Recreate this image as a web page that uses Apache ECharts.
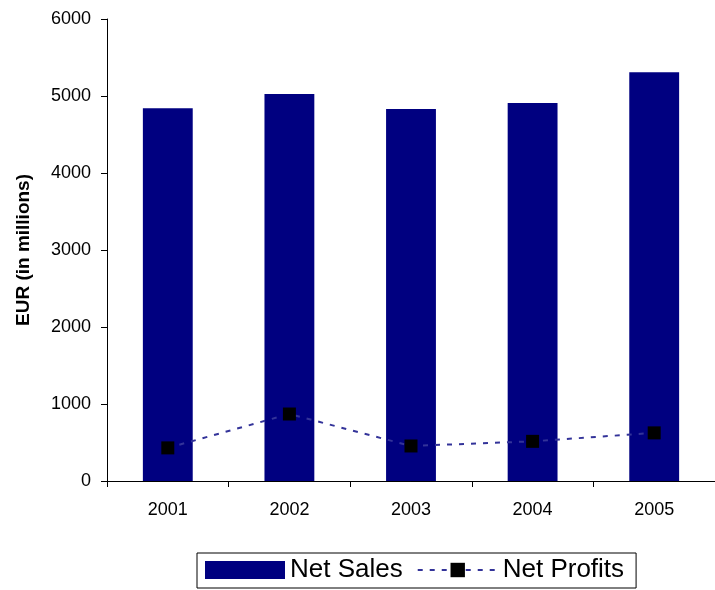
<!DOCTYPE html>
<html>
<head>
<meta charset="utf-8">
<script src="https://cdn.jsdelivr.net/npm/echarts@6/dist/echarts.min.js"></script>
<style>
  html, body { margin: 0; padding: 0; background: #fff; }
  #main { width: 715px; height: 590px; }
</style>
</head>
<body>
<div id="main"></div>
<script>
const years = ["2001", "2002", "2003", "2004", "2005"];
const netSales = [4840, 5025, 4830, 4910, 5310];
const netProfits = [430, 870, 455, 515, 625];

const font = "Liberation Sans, Arial, sans-serif";

var myChart = echarts.init(document.getElementById("main"));
myChart.setOption({
  animation: false,
  textStyle: { fontFamily: font },
  grid: {
    left: 107,
    right: -11,
    top: 19,
    bottom: 109
  },
  legend: {
    left: 197,
    top: 553,
    padding: [4, 12, 5, 8],
    itemGap: 14,
    itemWidth: 80,
    itemHeight: 18,
    borderColor: "#000",
    borderWidth: 1,
    borderRadius: 0,
    textStyle: { fontSize: 26, color: "#000", fontFamily: font },
    data: [
      { name: "Net Sales", icon: "rect", itemStyle: { color: "#000080" } },
      { name: "Net Profits" }
    ]
  },
  xAxis: {
    type: "category",
    data: years,
    axisLine: { lineStyle: { color: "#000", width: 1 } },
    axisTick: { show: true, length: 6, lineStyle: { color: "#000" } },
    axisLabel: { color: "#000", fontSize: 18, margin: 20 }
  },
  yAxis: {
    type: "value",
    min: 0,
    max: 6000,
    interval: 1000,
    name: "EUR (in millions)",
    nameLocation: "middle",
    nameGap: 74,
    nameTextStyle: { fontSize: 19, fontWeight: "bold", color: "#000" },
    axisLine: { show: true, lineStyle: { color: "#000", width: 1 } },
    axisTick: { show: true, length: 6, lineStyle: { color: "#000" } },
    axisLabel: { color: "#000", fontSize: 18, margin: 16, formatter: (v) => String(v) },
    splitLine: { show: false }
  },
  series: [
    {
      name: "Net Sales",
      type: "bar",
      data: netSales,
      barWidth: "41%",
      itemStyle: { color: "#000080" }
    },
    {
      name: "Net Profits",
      type: "line",
      data: netProfits,
      symbol: "rect",
      symbolSize: 13,
      itemStyle: { color: "#000" },
      lineStyle: { color: "#333399", width: 2, type: [5, 7] }
    }
  ]
});
</script>
</body>
</html>
